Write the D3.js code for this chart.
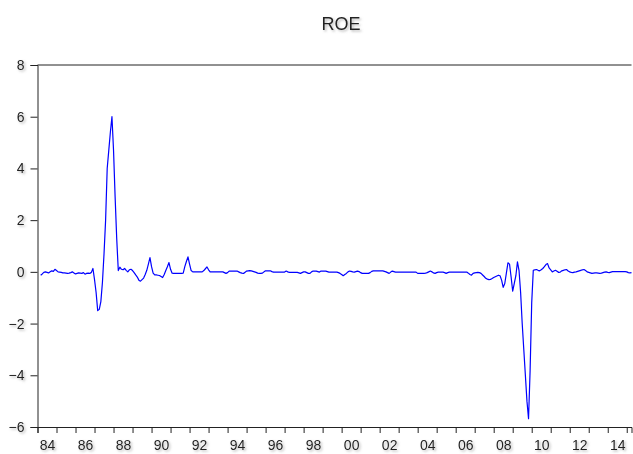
<!DOCTYPE html>
<html>
<head>
<meta charset="utf-8">
<script src="https://cdn.jsdelivr.net/npm/d3@7"></script>
<style>
  html, body { margin: 0; padding: 0; background: #fff; }
  svg { display: block; }
  text { font-family: "Liberation Sans", Arial, sans-serif; fill: #222; }
</style>
</head>
<body>
<svg id="chart" width="633" height="454"></svg>
<script>
// Monthly series, first observation 1984M3
const startYear = 1984, startMonth = 3;
const roe = [
  // 1984 (M3..M12)
  -0.13,-0.08,-0.02,0.0,-0.02,-0.04,0.0,0.04,0.02,0.1,
  // 1985
  0.05,0.0,-0.01,-0.02,-0.04,-0.04,-0.05,-0.06,-0.05,-0.03,0.0,-0.04,
  // 1986
  -0.08,-0.06,-0.04,-0.05,-0.06,-0.03,-0.09,-0.06,-0.05,-0.06,-0.02,0.13,
  // 1987
  -0.3,-0.8,-1.5,-1.45,-1.15,-0.4,0.7,2.0,4.0,4.7,5.4,6.0,
  // 1988
  4.7,2.9,1.3,0.05,0.18,0.1,0.08,0.13,0.06,0.0,0.08,0.1,
  // 1989
  0.05,-0.03,-0.12,-0.2,-0.32,-0.36,-0.3,-0.24,-0.1,0.06,0.3,0.55,
  // 1990
  0.2,-0.05,-0.12,-0.12,-0.13,-0.14,-0.18,-0.22,-0.1,0.05,0.2,0.36,
  // 1991
  0.1,-0.05,-0.06,-0.06,-0.06,-0.06,-0.06,-0.06,-0.05,0.2,0.4,0.58,
  // 1992
  0.3,0.05,0.0,0.0,0.0,0.0,0.0,0.0,0.0,0.05,0.12,0.19,
  // 1993
  0.08,0.0,0.0,0.0,0.0,0.0,0.0,0.0,0.0,0.0,-0.03,-0.06,
  // 1994
  -0.03,0.03,0.03,0.03,0.03,0.03,0.03,0.0,-0.03,-0.05,-0.06,-0.02,
  // 1995
  0.03,0.04,0.05,0.04,0.02,0.0,-0.02,-0.05,-0.06,-0.06,-0.05,0.0,
  // 1996
  0.04,0.04,0.04,0.04,0.01,-0.01,-0.01,-0.01,-0.01,-0.01,-0.01,-0.01,
  // 1997
  -0.01,0.03,0.0,-0.02,-0.02,-0.02,-0.02,-0.02,-0.02,-0.04,-0.06,-0.03,
  // 1998
  0.0,0.0,-0.03,-0.06,-0.06,0.0,0.03,0.03,0.03,0.01,-0.01,0.03,
  // 1999
  0.03,0.03,0.03,0.01,-0.01,-0.01,-0.01,-0.01,-0.01,-0.01,-0.03,-0.06,
  // 2000
  -0.1,-0.15,-0.1,-0.06,0.0,0.03,0.02,0.0,-0.01,0.01,0.03,0.01,
  // 2001
  -0.03,-0.06,-0.06,-0.06,-0.06,-0.06,-0.03,0.02,0.04,0.04,0.04,0.04,
  // 2002
  0.04,0.04,0.04,0.02,0.0,-0.03,-0.06,-0.01,0.03,0.01,-0.01,-0.01,
  // 2003
  -0.01,-0.01,-0.01,-0.01,-0.01,-0.01,-0.01,-0.01,-0.01,-0.01,-0.01,-0.01,
  // 2004
  -0.06,-0.06,-0.06,-0.06,-0.06,-0.05,-0.03,0.0,0.03,0.0,-0.04,-0.06,
  // 2005
  -0.03,-0.01,-0.01,-0.01,-0.01,-0.03,-0.06,-0.03,-0.01,-0.01,-0.01,-0.01,
  // 2006
  -0.01,-0.01,-0.01,-0.01,-0.01,-0.01,-0.01,-0.01,-0.05,-0.1,-0.13,-0.06,
  // 2007
  -0.04,-0.03,-0.02,-0.03,-0.06,-0.12,-0.18,-0.25,-0.28,-0.3,-0.29,-0.26,
  // 2008
  -0.22,-0.19,-0.16,-0.13,-0.15,-0.32,-0.6,-0.45,-0.05,0.35,0.3,-0.2,
  // 2009
  -0.75,-0.45,-0.15,0.39,0.05,-0.8,-2.0,-3.0,-4.0,-5.0,-5.68,-3.8,
  // 2010
  -1.2,0.06,0.08,0.09,0.06,0.04,0.08,0.13,0.2,0.28,0.32,0.15,
  // 2011
  0.08,0.0,0.03,0.06,0.02,-0.02,-0.01,0.04,0.06,0.08,0.09,0.03,
  // 2012
  0.0,-0.02,-0.03,-0.01,0.0,0.02,0.04,0.06,0.08,0.09,0.05,0.0,
  // 2013
  -0.02,-0.04,-0.06,-0.05,-0.04,-0.04,-0.05,-0.06,-0.05,-0.03,-0.01,0.0,
  // 2014
  -0.02,-0.03,-0.01,0.01,0.01,0.01,0.01,0.01,0.01,0.01,0.01,0.01,
  // 2015 (M1..M4)
  0.0,-0.03,-0.04,-0.03
];
const yTicks = [-6, -4, -2, 0, 2, 4, 6, 8];
const yearTicks = d3.range(1984, 2016);
const yearLabels = d3.range(1984, 2015, 2);
const title = "ROE";

const svg = d3.select("#chart");
const defs = svg.append("defs");
const f = defs.append("filter").attr("id", "sh").attr("x", "-20%").attr("y", "-20%").attr("width", "160%").attr("height", "160%");
f.append("feDropShadow").attr("dx", 1.5).attr("dy", 1.5).attr("stdDeviation", 1.3)
  .attr("flood-color", "#888").attr("flood-opacity", 0.6);

// month index since 1984M1
const monthIdx = (y, m) => (y - 1984) * 12 + (m - 1);
const lastIdx = monthIdx(startYear, startMonth) + roe.length - 1;

const x = d3.scaleLinear().domain([0, lastIdx]).range([37.5, 631.5]);
const y = d3.scaleLinear().domain([-6, 8]).range([427, 65]);

const data = roe.map((v, i) => ({ t: monthIdx(startYear, startMonth) + i, v }));

// frame: top line
svg.append("line").attr("x1", x(0)).attr("x2", x(lastIdx)).attr("y1", y(8)).attr("y2", y(8))
  .attr("stroke", "#222").attr("stroke-width", 1);

// Y axis
const gy = svg.append("g").attr("transform", `translate(${x(0)},0)`)
  .call(d3.axisLeft(y).tickValues(yTicks).tickSize(7).tickPadding(6).tickFormat(d3.format("d")));
gy.select(".domain").attr("stroke", "#222");
gy.selectAll(".tick line").attr("stroke", "#222");
gy.selectAll("text").style("font-size", "14px").attr("fill", "#1a1a1a").attr("filter", "url(#sh)");

// X axis ticks (every year)
const gx = svg.append("g").attr("transform", `translate(0,${y(-6)})`)
  .call(d3.axisBottom(x).tickValues(yearTicks.map(yr => monthIdx(yr, 1))).tickSize(6).tickFormat(""));
gx.select(".domain").attr("stroke", "#222");
gx.selectAll(".tick line").attr("stroke", "#222");

// X labels (centered in year interval)
const gl = svg.append("g").attr("transform", `translate(0,${y(-6)})`)
  .call(d3.axisBottom(x).tickValues(yearLabels.map(yr => monthIdx(yr, 7))).tickSize(0).tickPadding(13.5)
    .tickFormat(d => String(1984 + Math.floor(d / 12)).slice(2)));
gl.select(".domain").remove();
gl.selectAll("text").style("font-size", "14px").attr("fill", "#1a1a1a").attr("filter", "url(#sh)");

// series line
const line = d3.line().x(d => x(d.t)).y(d => y(d.v));
svg.append("path").datum(data).attr("d", line)
  .attr("fill", "none").attr("stroke", "#0000ff").attr("stroke-width", 1.2).attr("stroke-linejoin", "round");

// title
svg.append("text").attr("x", 341).attr("y", 30).attr("text-anchor", "middle")
  .style("font-size", "18px").attr("fill", "#1a1a1a").attr("filter", "url(#sh)").text(title);
</script>
</body>
</html>
